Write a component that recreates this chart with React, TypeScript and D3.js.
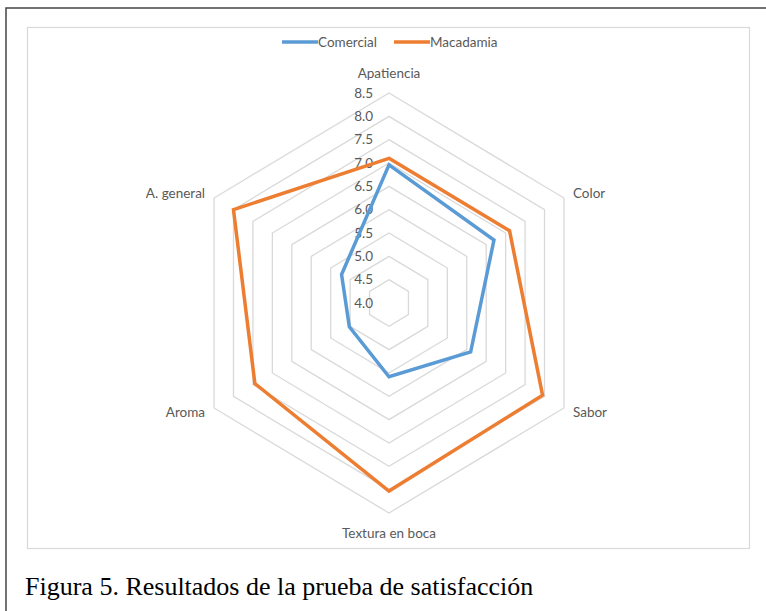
import React, { useEffect, useRef } from 'react';
import * as d3 from 'd3';

const categories = ['Apatiencia', 'Color', 'Sabor', 'Textura en boca', 'Aroma', 'A. general'];
const comercial = [6.96, 6.7, 6.1, 5.58, 5.02, 5.22];
const macadamia = [7.1, 7.1, 7.95, 8.03, 7.45, 8.0];
const seriesNames = ['Comercial', 'Macadamia'];
const ticks = [4.0, 4.5, 5.0, 5.5, 6.0, 6.5, 7.0, 7.5, 8.0, 8.5];

const App = () => {
    const svgRef = useRef<SVGSVGElement>(null);

    useEffect(() => {
        const svg = d3.select(svgRef.current);
        svg.selectAll('*').remove();

        const width = 766;
        const height = 611;
        const cx = 389;
        const cy = 303;
        const squeeze = 0.962; // the picture is a bit narrower than tall
        const font = 'Lato, "Open Sans", sans-serif';
        const colors = d3.scaleOrdinal<string>().domain(seriesNames).range(['#5B9BD5', '#ED7D31']);

        const r = d3.scaleLinear().domain([4, 8.5]).range([0, 210]);
        const angle = (i: number) => (i * 2 * Math.PI) / categories.length;
        const px = (i: number, v: number) => cx + r(v) * Math.sin(angle(i)) * squeeze;
        const py = (i: number, v: number) => cy - r(v) * Math.cos(angle(i));

        svg.append('rect').attr('width', width).attr('height', height).attr('fill', '#fff');

        // page frame and chart area border
        svg.append('path')
            .attr('d', `M6,${height} L6,8 L${width},8`)
            .attr('fill', 'none')
            .attr('stroke', '#444')
            .attr('stroke-width', 1.5);
        svg.append('rect')
            .attr('x', 27.5).attr('y', 27.5)
            .attr('width', 722).attr('height', 521)
            .attr('fill', 'none')
            .attr('stroke', '#d9d9d9')
            .attr('stroke-width', 1.2);

        // rings
        const g = svg.append('g');
        ticks.slice(1).forEach(t => {
            const pts = categories.map((_, i) => [px(i, t), py(i, t)] as [number, number]);
            g.append('path')
                .attr('d', d3.line().curve(d3.curveLinearClosed)(pts))
                .attr('fill', 'none')
                .attr('stroke', '#d9d9d9')
                .attr('stroke-width', 1.3);
        });

        // tick labels
        g.selectAll('text.tick')
            .data(ticks)
            .join('text')
            .attr('class', 'tick')
            .attr('x', cx - 16)
            .attr('y', t => cy - r(t))
            .attr('dy', '0.35em')
            .attr('text-anchor', 'end')
            .attr('font-family', font)
            .attr('font-size', 13.5)
            .attr('fill', '#595959')
            .text(t => t.toFixed(1));

        // series
        const line = d3.line<number>()
            .x((v, i) => px(i, v))
            .y((v, i) => py(i, v))
            .curve(d3.curveLinearClosed);
        [comercial, macadamia].forEach((vals, k) => {
            svg.append('path')
                .attr('d', line(vals))
                .attr('fill', 'none')
                .attr('stroke', colors(seriesNames[k]))
                .attr('stroke-width', 3.5)
                .attr('stroke-linejoin', 'miter');
        });

        // category labels
        const labelPos = [
            { dx: 0, dy: -20, anchor: 'middle' },
            { dx: 9, dy: -5, anchor: 'start' },
            { dx: 9, dy: 4, anchor: 'start' },
            { dx: 0, dy: 20, anchor: 'middle' },
            { dx: -9, dy: 4, anchor: 'end' },
            { dx: -9, dy: -5, anchor: 'end' },
        ];
        svg.selectAll('text.cat')
            .data(categories)
            .join('text')
            .attr('class', 'cat')
            .attr('x', (_, i) => px(i, 8.5) + labelPos[i].dx)
            .attr('y', (_, i) => py(i, 8.5) + labelPos[i].dy)
            .attr('dy', '0.35em')
            .attr('text-anchor', (_, i) => labelPos[i].anchor)
            .attr('font-family', font)
            .attr('font-size', 13.5)
            .attr('fill', '#595959')
            .text(d => d);

        // legend
        const legendX = [282, 394];
        seriesNames.forEach((name, k) => {
            svg.append('line')
                .attr('x1', legendX[k]).attr('x2', legendX[k] + 36)
                .attr('y1', 42).attr('y2', 42)
                .attr('stroke', colors(name))
                .attr('stroke-width', 3.5);
            svg.append('text')
                .attr('x', legendX[k] + 36)
                .attr('y', 42)
                .attr('dy', '0.35em')
                .attr('font-family', font)
                .attr('font-size', 13.5)
                .attr('fill', '#595959')
                .text(name);
        });

        // caption
        svg.append('text')
            .attr('x', 25)
            .attr('y', 595)
            .attr('font-family', '"Liberation Serif", "Times New Roman", serif')
            .attr('font-size', 26)
            .attr('fill', '#000')
            .text('Figura 5. Resultados de la prueba de satisfacción');
    }, []);

    return (
        <svg
            ref={svgRef}
            width={766}
            height={611}
            style={{ position: 'absolute', left: 0, top: 0, display: 'block' }}
        />
    );
};

export default App;
